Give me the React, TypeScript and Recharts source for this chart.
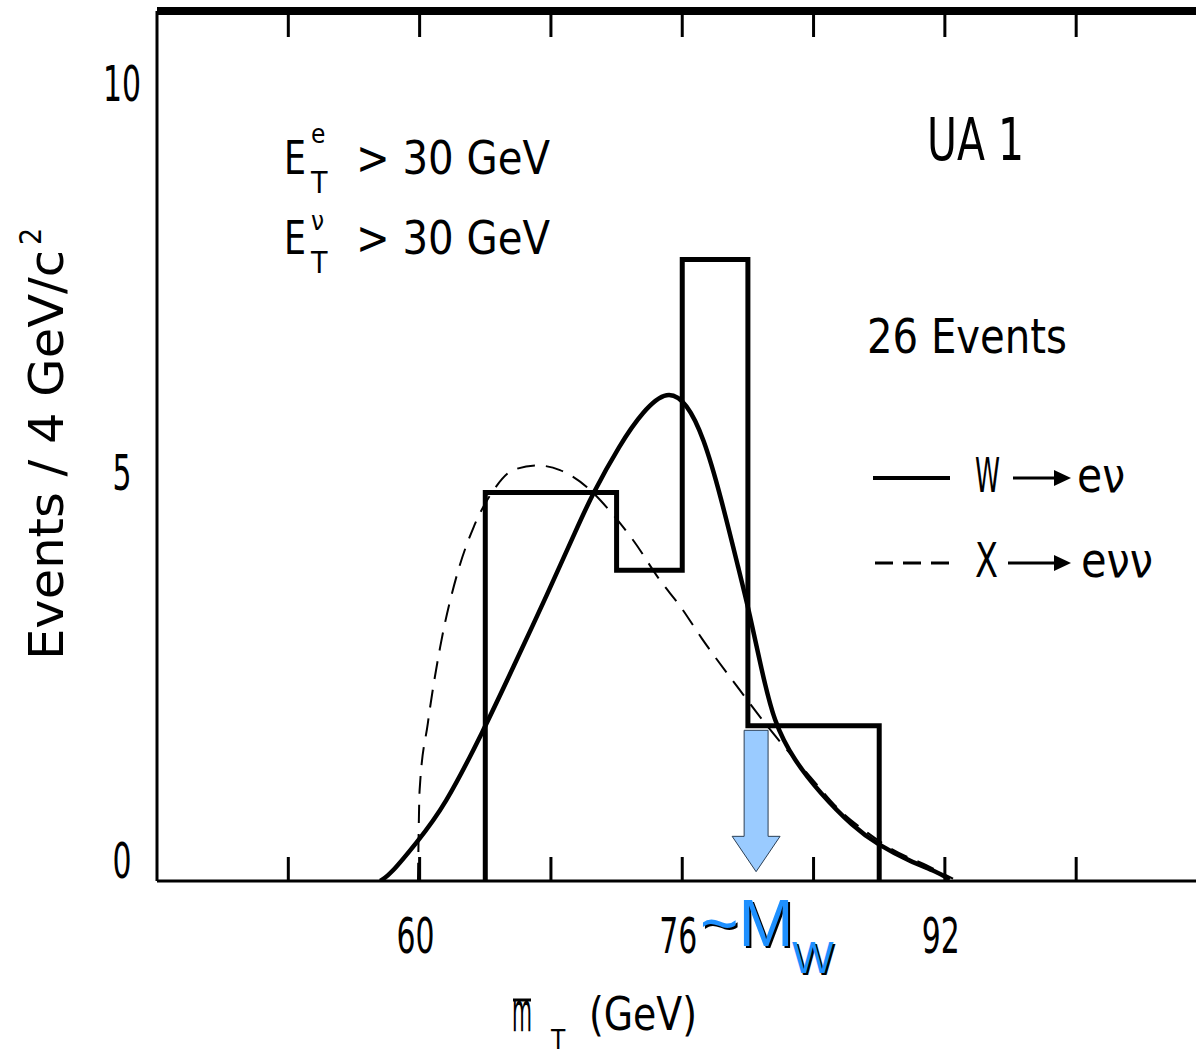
import React from 'react';
import {
  ComposedChart, Line, XAxis, YAxis, ReferenceArea, Customized,
} from 'recharts';

// transverse mass (GeV) and events / 4 GeV
const binEdges = [64, 72, 76, 80, 88];
const binCounts = [5, 4, 8, 2];

const wMass = [57.6, 58.2, 59.8, 61.5, 63.9, 65.7, 67.8, 69.6, 70.5, 72.2, 73.6, 75.1, 76.3, 77.3, 78.3, 79.5, 80.1, 80.8, 81.6, 82.8, 84.4, 86.4, 87.9, 89.9, 91.5, 92.3];
const wEvents = [0, 0.08, 0.49, 0.95, 1.94, 2.75, 3.7, 4.55, 4.97, 5.62, 6.05, 6.33, 6.15, 5.71, 4.99, 3.96, 3.45, 2.75, 2.03, 1.56, 1.13, 0.7, 0.47, 0.25, 0.12, 0.02];

const xMass = [59.9, 60.0, 60.5, 61.25, 62.3, 63.3, 64.5, 65.7, 67.15, 68.55, 70.2, 71.4, 73.0, 74.65, 75.9, 77.2, 79.5, 80.75, 83.8, 85.6, 87.3, 88.85, 90.9, 92.5];
const xEvents = [0, 1.17, 2.03, 3.01, 3.96, 4.56, 5.03, 5.29, 5.35, 5.29, 5.07, 4.81, 4.39, 3.87, 3.53, 3.12, 2.46, 2.11, 1.34, 0.91, 0.62, 0.4, 0.2, 0.03];

const xTicks = [52, 60, 68, 76, 84, 92, 100];
const xTickLabels = [60, 76, 92];
const yTicks = [0, 5, 10];

// M_W marker (GeV) and its arrow span in events
const mwMarker = 80.5;
const arrowTop = 1.94;
const arrowTip = 0.12;

const histData = [{ m: binEdges[0], n: 0 }]
  .concat(binCounts.map((c, i) => ({ m: binEdges[i], n: c })))
  .concat([{ m: binEdges[binEdges.length - 1], n: 0 }]);
const wData = wMass.map((m, i) => ({ m, n: wEvents[i] }));
const xData = xMass.map((m, i) => ({ m, n: xEvents[i] }));

const FONT = "'DejaVu Sans Condensed', 'Liberation Sans Narrow', 'DejaVu Sans', sans-serif";

const BottomTick = (props: any) => {
  const { x, y, payload } = props;
  const labelled = xTickLabels.includes(payload.value);
  const s = String(payload.value);
  return (
    <g>
      <line x1={x} y1={y} x2={x} y2={y - 24} stroke="#000" strokeWidth={3} />
      {labelled && (
        <text x={x - 4} y={y + 72} textAnchor="middle" fontFamily={FONT} fontSize={50} fill="#000"
          textLength={s.length * 19} lengthAdjust="spacingAndGlyphs">
          {s}
        </text>
      )}
    </g>
  );
};

const TopTick = (props: any) => {
  const { x, y } = props;
  return <line x1={x} y1={y} x2={x} y2={y + 26} stroke="#000" strokeWidth={3} />;
};

const LeftTick = (props: any) => {
  const { x, y, payload } = props;
  const s = String(payload.value);
  return (
    <text x={x - 35} y={y - 3} textAnchor="middle" fontFamily={FONT} fontSize={50} fill="#000"
      textLength={s.length * 19} lengthAdjust="spacingAndGlyphs">
      {s}
    </text>
  );
};

const ArrowShape = (props: any) => {
  const { x, y, width, height } = props;
  const cx = x + width / 2;
  const half = width / 4;
  const headH = height * 0.25;
  const pts = [
    [cx - half, y], [cx + half, y], [cx + half, y + height - headH], [x + width, y + height - headH],
    [cx, y + height], [x, y + height - headH], [cx - half, y + height - headH],
  ].map(p => p.join(',')).join(' ');
  return <polygon points={pts} fill="#9ACBFF" stroke="#2b3f55" strokeWidth={1} />;
};

const Annotations = () => (
  <g fontFamily={FONT} fill="#000">
    {/* cuts */}
    <text x={284} y={174} fontSize={46} textLength={22} lengthAdjust="spacingAndGlyphs">E</text>
    <text x={311} y={143} fontSize={26}>e</text>
    <text x={311} y={193} fontSize={30}>T</text>
    <text x={356} y={174} fontSize={46} textLength={194} lengthAdjust="spacingAndGlyphs">{'> 30  GeV'}</text>
    <text x={284} y={254} fontSize={46} textLength={22} lengthAdjust="spacingAndGlyphs">E</text>
    <text x={311} y={230} fontSize={26}>ν</text>
    <text x={311} y={273} fontSize={30}>T</text>
    <text x={356} y={254} fontSize={46} textLength={194} lengthAdjust="spacingAndGlyphs">{'> 30  GeV'}</text>

    <text x={927} y={160} fontSize={58} textLength={97} lengthAdjust="spacingAndGlyphs">UA 1</text>
    <text x={867} y={353} fontSize={48} textLength={200} lengthAdjust="spacingAndGlyphs">26 Events</text>

    {/* legend */}
    <line x1={873} y1={478} x2={950} y2={478} stroke="#000" strokeWidth={4} />
    <text x={975} y={492} fontSize={48} textLength={25} lengthAdjust="spacingAndGlyphs">W</text>
    <line x1={1013} y1={478} x2={1056} y2={478} stroke="#000" strokeWidth={3} />
    <polygon points="1054,470 1071,478 1054,486" fill="#000" />
    <text x={1077} y={492} fontSize={48} textLength={48} lengthAdjust="spacingAndGlyphs">eν</text>

    <line x1={875} y1={563} x2={955} y2={563} stroke="#000" strokeWidth={3} strokeDasharray="18 10" />
    <text x={975} y={577} fontSize={48} textLength={23} lengthAdjust="spacingAndGlyphs">X</text>
    <line x1={1008} y1={563} x2={1056} y2={563} stroke="#000" strokeWidth={3} />
    <polygon points="1054,555 1071,563 1054,571" fill="#000" />
    <text x={1081} y={577} fontSize={48} textLength={72} lengthAdjust="spacingAndGlyphs">eνν</text>

    {/* axis titles */}
    <g transform="translate(63,660) rotate(-90)">
      <text x={0} y={0} fontSize={48} textLength={410} lengthAdjust="spacingAndGlyphs">Events / 4 GeV/c</text>
      <text x={415} y={-22} fontSize={30}>2</text>
    </g>
    <text x={512} y={1031} fontSize={56} textLength={20} lengthAdjust="spacingAndGlyphs">m</text>
    <line x1={513} y1={1000} x2={531} y2={1000} stroke="#000" strokeWidth={3} />
    <text x={551} y={1049} fontSize={26}>T</text>
    <text x={589} y={1030} fontSize={46} textLength={108} lengthAdjust="spacingAndGlyphs">(GeV)</text>

    {/* ~M_W label with shadow */}
    <g fontFamily="'Liberation Sans', Arial, sans-serif">
      <text x={702} y={948} fontSize={66} fill="#000">~M</text>
      <text x={794} y={975} fontSize={44} fill="#000">W</text>
      <text x={700} y={946} fontSize={66} fill="#1E90FF">~M</text>
      <text x={792} y={973} fontSize={44} fill="#1E90FF">W</text>
    </g>
  </g>
);

export default function App() {
  return (
    <div style={{ position: 'absolute', left: 0, top: 0, width: 1196, height: 1055, background: '#fff' }}>
      <ComposedChart
        width={1196}
        height={1055}
        margin={{ top: 0, right: 0, bottom: 0, left: 0 }}
      >
        <XAxis
          dataKey="m"
          type="number"
          domain={[44, 107.3]}
          ticks={xTicks}
          allowDataOverflow
          height={174}
          tickSize={0}
          tickMargin={0}
          tickLine={false}
          axisLine={{ stroke: '#000', strokeWidth: 3 }}
          tick={<BottomTick />}
          interval={0}
        />
        <XAxis
          xAxisId="top"
          dataKey="m"
          orientation="top"
          type="number"
          domain={[44, 107.3]}
          ticks={xTicks}
          allowDataOverflow
          height={11}
          tickSize={0}
          tickMargin={0}
          tickLine={false}
          axisLine={{ stroke: '#000', strokeWidth: 8 }}
          tick={<TopTick />}
          interval={0}
        />
        <YAxis
          type="number"
          domain={[0, 11.2]}
          ticks={yTicks}
          allowDataOverflow
          width={157}
          tickSize={0}
          tickMargin={0}
          tickLine={false}
          axisLine={{ stroke: '#000', strokeWidth: 3 }}
          tick={<LeftTick />}
          interval={0}
        />
        <ReferenceArea
          x1={mwMarker - 1.46}
          x2={mwMarker + 1.46}
          y1={arrowTip}
          y2={arrowTop}
          shape={<ArrowShape />}
        />
        <Line
          data={xData}
          dataKey="n"
          type="monotone"
          stroke="#000"
          strokeWidth={2}
          strokeDasharray="18 11"
          dot={false}
          isAnimationActive={false}
        />
        <Line
          data={histData}
          dataKey="n"
          type="stepAfter"
          stroke="#000"
          strokeWidth={5}
          strokeLinejoin="miter"
          dot={false}
          isAnimationActive={false}
        />
        <Line
          data={wData}
          dataKey="n"
          type="basis"
          stroke="#000"
          strokeWidth={4.5}
          dot={false}
          isAnimationActive={false}
        />
        <Customized component={Annotations} />
      </ComposedChart>
    </div>
  );
}
